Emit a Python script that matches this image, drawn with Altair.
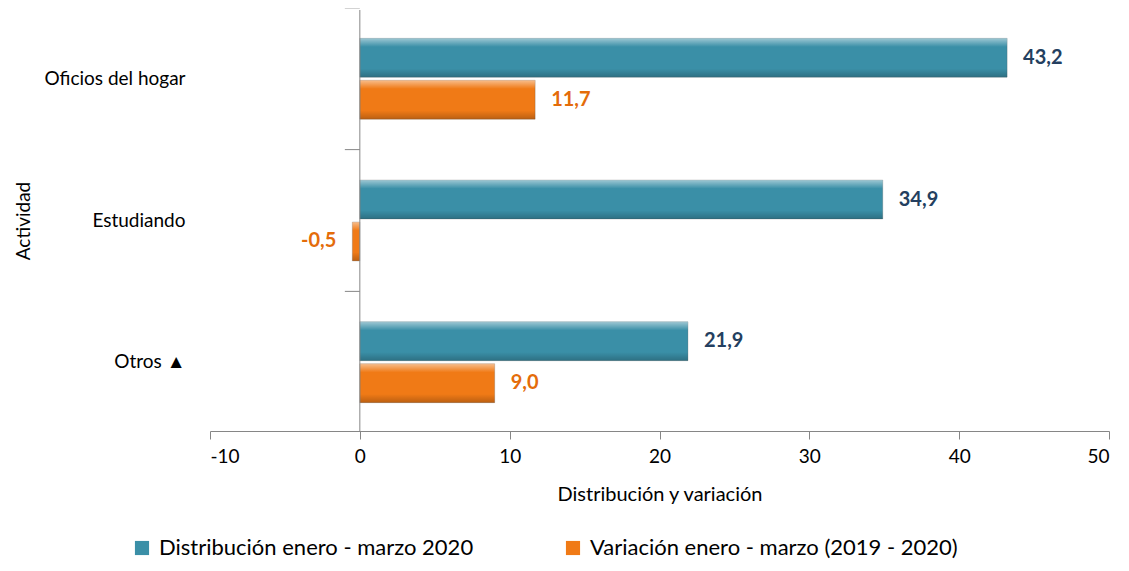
import altair as alt
import pandas as pd

categories = ["Oficios del hogar", "Estudiando", "Otros ▲"]
series = ["Distribución enero - marzo 2020", "Variación enero - marzo (2019 - 2020)"]
distribucion = [43.2, 34.9, 21.9]
variacion = [11.7, -0.5, 9.0]
x_ticks = [-10, 0, 10, 20, 30, 40, 50]

rows = []
for c, d, v in zip(categories, distribucion, variacion):
    rows.append({"Actividad": c, "Serie": series[0], "Valor": d})
    rows.append({"Actividad": c, "Serie": series[1], "Valor": v})
df = pd.DataFrame(rows)

FONT = "Lato"
BLUE = "#3A8FA7"
ORANGE = "#F07A16"
NAVY = "#243F60"
ORANGE_TXT = "#E46C0A"
GRAY = "#868686"
PAD_IN = 0.43
PAD_OUT = 0.2
PLOT_H = 421

y_enc = alt.Y(
    "Actividad:N",
    sort=categories,
    scale=alt.Scale(paddingInner=PAD_IN, paddingOuter=PAD_OUT),
    axis=alt.Axis(
        title="Actividad", domain=False, ticks=False, labelPadding=25,
        labelFontSize=19, labelColor="#000000", labelFont=FONT, labelLimit=300,
        titleFont=FONT, titleFontSize=19, titleFontWeight="normal",
        titleColor="#000000", titlePadding=10,
    ),
)
yoff_enc = alt.YOffset("Serie:N", sort=series, scale=alt.Scale(paddingInner=0.075))
x_enc = alt.X(
    "Valor:Q",
    scale=alt.Scale(domain=[-10, 50], nice=False, zero=False),
    axis=alt.Axis(
        values=x_ticks, grid=False, domainColor=GRAY, tickColor=GRAY, tickSize=8,
        labelFontSize=19, labelFont=FONT, labelColor="#000000", labelPadding=8,
        labelExpr="datum.value + ''",
        title="Distribución y variación", titleFont=FONT, titleFontSize=20,
        titleFontWeight="normal", titleColor="#000000", titlePadding=18,
    ),
)

base = alt.Chart(df).encode(y=y_enc, yOffset=yoff_enc, x=x_enc)

bars = base.mark_bar(strokeWidth=0.8, stroke="#5a5a5a", strokeOpacity=0.35).encode(
    color=alt.Color(
        "Serie:N",
        sort=series,
        scale=alt.Scale(domain=series, range=[BLUE, ORANGE]),
        legend=alt.Legend(
            title=None, orient="none", direction="horizontal", legendX=-79,
            legendY=527, labelFont=FONT, labelFontSize=22, labelColor="#000000",
            symbolType="square", symbolSize=200, symbolStrokeWidth=0,
            columnPadding=88, labelOffset=6, labelLimit=500,
        ),
    )
)

shade = alt.Gradient(
    gradient="linear",
    stops=[
        alt.GradientStop(color="rgba(255,255,255,0.5)", offset=0),
        alt.GradientStop(color="rgba(255,255,255,0.0)", offset=0.22),
        alt.GradientStop(color="rgba(0,0,0,0.0)", offset=0.78),
        alt.GradientStop(color="rgba(0,0,0,0.22)", offset=1),
    ],
    x1=0, x2=0, y1=0, y2=1,
)
overlay = base.mark_bar(fill=shade)

label_expr = "replace(replace(format(datum.Valor, '.1f'), '.', ','), '\u2212', '-')"
txt_color = alt.condition(alt.datum.Serie == series[0], alt.value(NAVY), alt.value(ORANGE_TXT))

pos_text = base.transform_filter("datum.Valor >= 0").transform_calculate(
    label=label_expr
).mark_text(align="left", baseline="middle", dx=16, font=FONT, fontSize=20, fontWeight="bold").encode(
    text="label:N", color=txt_color
)
neg_text = base.transform_filter("datum.Valor < 0").transform_calculate(
    label=label_expr
).mark_text(align="right", baseline="middle", dx=-16, font=FONT, fontSize=20, fontWeight="bold").encode(
    text="label:N", color=txt_color
)

zero_df = pd.DataFrame({"x": [0]})
zero_rule = alt.Chart(zero_df).mark_rule(color=GRAY, strokeWidth=1).encode(x="x:Q")

# ticks on the category axis sit at the step boundaries (half the inner padding above each band)
step = PLOT_H / (len(categories) - PAD_IN + 2 * PAD_OUT)
half_gap = PAD_IN * step / 2
cat_df = pd.DataFrame({"Actividad": categories})
cat_ticks = alt.Chart(cat_df).mark_rule(color=GRAY, strokeWidth=1, yOffset=-half_gap).encode(
    y=alt.Y("Actividad:N", sort=categories, bandPosition=0),
    x=alt.datum(-1),
    x2=alt.datum(0),
)

chart = alt.layer(bars, overlay, zero_rule, cat_ticks, pos_text, neg_text).properties(
    width=899,
    height=PLOT_H,
    autosize=alt.AutoSizeParams(type="none"),
    padding={"left": 202, "top": 2, "right": 12, "bottom": 133},
).configure(font=FONT).configure_view(stroke=None)

chart.save("out.html", embed_options={"renderer": "svg", "actions": False})
